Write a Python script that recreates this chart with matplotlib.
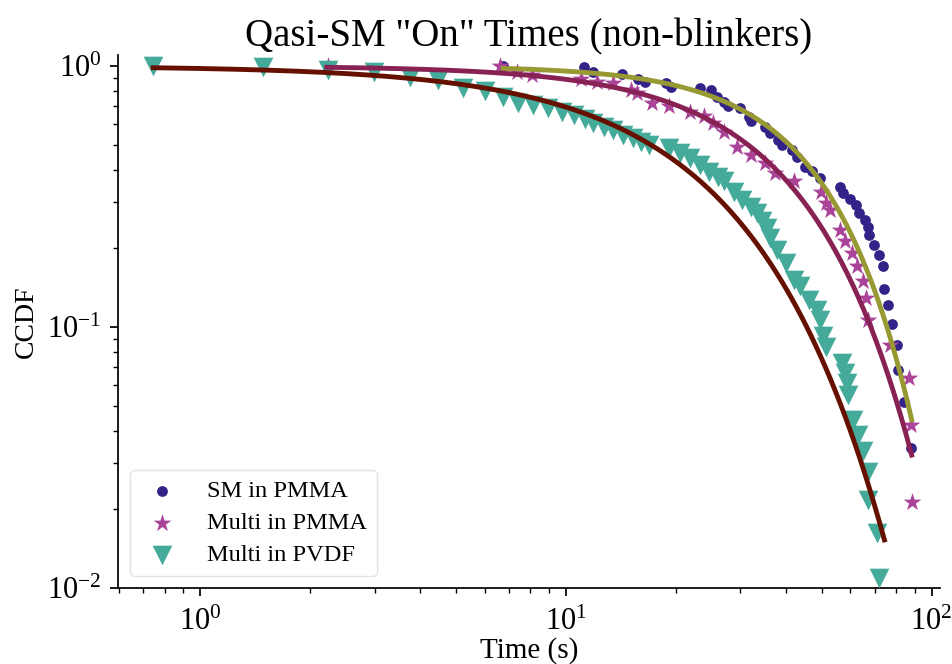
import numpy as np
import matplotlib
matplotlib.use("Agg")
import matplotlib.pyplot as plt

# ---- empirical CCDF points ----
sm_pmma_t = [6.74, 11.2, 11.9, 14.2, 15.8, 16.5, 18.8, 19.4, 23.3, 24.9, 25.9, 27.0,
             27.8, 29.9, 31.6, 32.1, 35.1, 36.2, 38.1, 38.9, 41.5, 42.8, 45.1, 47.0,
             49.5, 56.2, 57.1, 59.8, 62.0, 63.4, 65.8, 66.9, 67.6, 69.6, 71.9, 73.5,
             74.1, 75.8, 78.1, 80.3, 81.0, 83.9, 87.9]
sm_pmma_s = [1.0, 0.99, 0.946, 0.93, 0.89, 0.866, 0.858, 0.833, 0.826, 0.81, 0.763, 0.73,
             0.705, 0.689, 0.64, 0.616, 0.582, 0.552, 0.52, 0.498, 0.477, 0.45, 0.411, 0.397,
             0.372, 0.345, 0.325, 0.309, 0.294, 0.274, 0.257, 0.241, 0.225, 0.206, 0.189, 0.172,
             0.14, 0.121, 0.103, 0.0855, 0.0686, 0.0514, 0.0344]

multi_pmma_t = [2.24, 6.6, 7.35, 8.1, 11.0, 12.2, 13.5, 15.1, 15.7, 17.2, 19.2, 21.8,
                23.9, 25.3, 27.0, 29.4, 32.1, 35.1, 37.4, 42.0, 49.9, 51.5, 52.6, 56.1,
                57.8, 60.4, 62.4, 65.0, 66.3, 67.0, 77.0, 86.8, 88.0, 88.2]
multi_pmma_s = [1.0, 1.0, 0.95, 0.924, 0.889, 0.866, 0.858, 0.809, 0.786, 0.72, 0.705, 0.668,
                0.643, 0.603, 0.56, 0.491, 0.456, 0.424, 0.388, 0.361, 0.33, 0.298, 0.28, 0.235,
                0.214, 0.192, 0.172, 0.15, 0.129, 0.106, 0.0855, 0.064, 0.0422, 0.0213]

multi_pvdf_t = [0.745, 1.49, 2.24, 2.99, 3.75, 4.48, 5.25, 6.01, 6.74, 7.4, 8.14, 8.95,
                9.74, 10.5, 11.3, 11.9, 12.7, 13.5, 14.3, 15.3, 16.1, 16.9, 19.2, 20.5,
                21.8, 23.3, 24.6, 26.0, 27.0, 28.8, 30.4, 32.0, 33.3, 34.4, 35.5, 36.2,
                37.7, 40.1, 42.0, 43.8, 46.1, 48.6, 49.5, 50.5, 51.5, 56.8, 58.0, 58.6,
                59.2, 61.1, 63.1, 65.1, 67.2, 67.2, 70.7, 72.0]
multi_pvdf_s = [1.0, 0.994, 0.965, 0.951, 0.905, 0.884, 0.822, 0.804, 0.763, 0.72, 0.709, 0.689,
                0.668, 0.649, 0.627, 0.603, 0.586, 0.569, 0.544, 0.528, 0.513, 0.498, 0.483, 0.463,
                0.443, 0.418, 0.394, 0.377, 0.361, 0.33, 0.307, 0.289, 0.273, 0.254, 0.24, 0.219,
                0.197, 0.176, 0.151, 0.143, 0.127, 0.116, 0.106, 0.0925, 0.0841, 0.0728, 0.0667, 0.0609,
                0.055, 0.0442, 0.0386, 0.0334, 0.0279, 0.0218, 0.0163, 0.0109]

# ---- stretched-exponential fits: S(t) = exp(-(t/tau)**beta) ----
fit_sm_pmma = dict(tau=49.2, beta=1.95, t0=6.74, t1=88.2)
fit_multi_pmma = dict(tau=39.8, beta=1.55, t0=2.22, t1=88.2)
fit_multi_pvdf = dict(tau=23.0, beta=1.22, t0=0.745, t1=74.3)

labels = ["SM in PMMA", "Multi in PMMA", "Multi in PVDF"]

plt.rcParams["font.family"] = ["Liberation Serif", "DejaVu Serif"]
plt.rcParams["mathtext.fontset"] = "stix"

fig = plt.figure(figsize=(9.52, 6.64), dpi=100)
ax = fig.add_axes([118 / 952, 76 / 664, 822 / 952, 533 / 664])

ax.scatter(sm_pmma_t, sm_pmma_s, s=60, marker="o", color="#332288", zorder=3, label=labels[0], linewidths=0)
ax.scatter(multi_pmma_t, multi_pmma_s, s=180, marker="*", color="#AA4499", zorder=3, label=labels[1], linewidths=0)
ax.scatter(multi_pvdf_t, multi_pvdf_s, s=200, marker="v", color="#44AA99", zorder=3, label=labels[2], linewidths=0)


def fit_curve(p):
    t = np.geomspace(p["t0"], p["t1"], 300)
    return t, np.exp(-(t / p["tau"]) ** p["beta"])


for p, c in [(fit_sm_pmma, "#999933"), (fit_multi_pmma, "#882255"), (fit_multi_pvdf, "#661100")]:
    t, s = fit_curve(p)
    ax.plot(t, s, color=c, lw=3.5, zorder=4)

ax.set_xscale("log")
ax.set_yscale("log")
ax.set_xlim(0.597, 105.4)
ax.set_ylim(0.01, 1.102)

for side in ("top", "right"):
    ax.spines[side].set_visible(False)
for side in ("left", "bottom"):
    ax.spines[side].set_linewidth(1.25)
ax.tick_params(which="major", length=6, width=1.25, labelsize=22, direction="out")
ax.tick_params(axis="x", which="major", pad=8)
ax.tick_params(axis="y", which="major", pad=6)
ax.tick_params(which="minor", length=3.5, width=1.0, direction="out")

ax.set_title('Qasi-SM "On" Times (non-blinkers)', fontsize=28, pad=6)
ax.set_xlabel("Time (s)", fontsize=21, labelpad=0)
ax.set_ylabel("CCDF", fontsize=20, labelpad=6)

leg = ax.legend(loc="lower left", fontsize=17.6, frameon=True, borderaxespad=0.5,
                handlelength=1.8, handletextpad=0.95, labelspacing=0.4, fancybox=True)
leg.get_frame().set_edgecolor("#dddddd")

fig.savefig("out.png", dpi=100)
